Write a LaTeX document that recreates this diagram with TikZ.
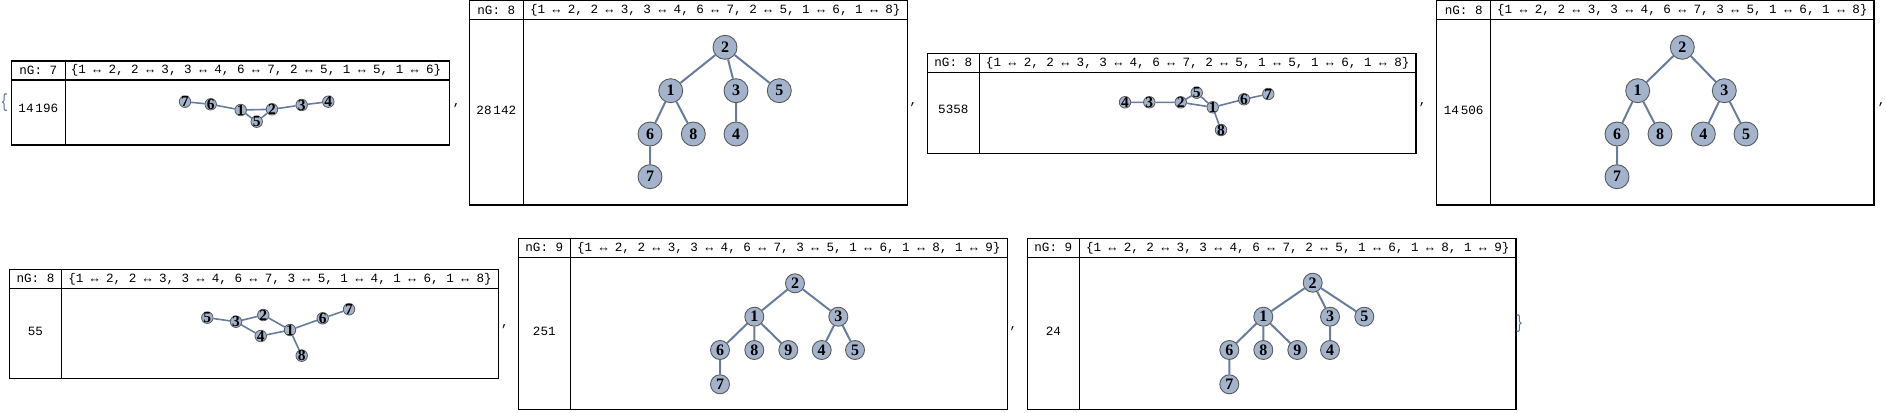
\documentclass[tikz,border=0pt]{standalone}
\usepackage{fontspec}
\setmainfont{Liberation Serif}
\setmonofont{Liberation Mono}
\usetikzlibrary{backgrounds}

\definecolor{vfill}{RGB}{163,179,204}
\definecolor{vedge}{RGB}{104,124,158}
\definecolor{vrim}{RGB}{90,90,90}
\definecolor{brace}{RGB}{85,115,155}

\begin{document}
\begin{tikzpicture}[x=1pt, y=-1pt,
    frame/.style={line width=1.3pt},
    code/.style={font=\ttfamily\fontsize{12.6}{15}\selectfont, inner sep=0pt},
    big/.style={circle, draw=vrim, fill=vfill, line width=0.9pt, inner sep=0pt,
        minimum size=24pt, font=\bfseries\fontsize{16}{16}\selectfont},
    mid/.style={big, minimum size=19pt},
    small/.style={circle, draw=vrim, fill=vfill, line width=0.8pt, inner sep=0pt,
        minimum size=11.5pt,
        label={[font=\bfseries\fontsize{15.5}{15.5}\selectfont, inner sep=0pt]center:#1}},
    link/.style={draw=vedge, line width=2pt},
    slink/.style={draw=vedge, line width=1.6pt}]
    \useasboundingbox (0,0) rectangle (1886,412);

    % frames
    \draw[frame] (11.3,61) rectangle (449.3,145) (11.3,80) -- (449.3,80) (65.3,61) -- (65.3,145);
    \draw[frame] (469.3,0.7) rectangle (907.3,205) (469.3,19.3) -- (907.3,19.3) (523.3,0.7) -- (523.3,205);
    \draw[frame] (927.3,53.3) rectangle (1416,153.3) (927.3,72.3) -- (1416,72.3) (979.3,53.3) -- (979.3,153.3);
    \draw[frame] (1436.7,0.7) rectangle (1874,205) (1436.7,19.3) -- (1874,19.3) (1490.7,0.7) -- (1490.7,205);
    \draw[frame] (9.3,269.3) rectangle (498.3,378.3) (9.3,288.3) -- (498.3,288.3) (61.7,269.3) -- (61.7,378.3);
    \draw[frame] (518.3,238.3) rectangle (1007.3,409.3) (518.3,257.3) -- (1007.3,257.3) (570.3,238.3) -- (570.3,409.3);
    \draw[frame] (1027.3,238.3) rectangle (1516,409.3) (1027.3,257.3) -- (1516,257.3) (1079.3,238.3) -- (1079.3,409.3);

    % headers
    \node[code] (ng1) at (38.3,70.5) {nG: 7};
    \node[code] (list1) at (256,70.5) {\{1 ↔ 2, 2 ↔ 3, 3 ↔ 4, 6 ↔ 7, 2 ↔ 5, 1 ↔ 5, 1 ↔ 6\}};
    \node[code] (ng2) at (496.3,10) {nG: 8};
    \node[code] (list2) at (715.3,10) {\{1 ↔ 2, 2 ↔ 3, 3 ↔ 4, 6 ↔ 7, 2 ↔ 5, 1 ↔ 6, 1 ↔ 8\}};
    \node[code] (ng3) at (953.3,62.8) {nG: 8};
    \node[code] (list3) at (1197.7,62.8) {\{1 ↔ 2, 2 ↔ 3, 3 ↔ 4, 6 ↔ 7, 2 ↔ 5, 1 ↔ 5, 1 ↔ 6, 1 ↔ 8\}};
    \node[code] (ng4) at (1463.7,10) {nG: 8};
    \node[code] (list4) at (1682.3,10) {\{1 ↔ 2, 2 ↔ 3, 3 ↔ 4, 6 ↔ 7, 3 ↔ 5, 1 ↔ 6, 1 ↔ 8\}};
    \node[code] (ng5) at (35.5,278.8) {nG: 8};
    \node[code] (list5) at (280,278.8) {\{1 ↔ 2, 2 ↔ 3, 3 ↔ 4, 6 ↔ 7, 3 ↔ 5, 1 ↔ 4, 1 ↔ 6, 1 ↔ 8\}};
    \node[code] (ng6) at (544.3,247.8) {nG: 9};
    \node[code] (list6) at (788.8,247.8) {\{1 ↔ 2, 2 ↔ 3, 3 ↔ 4, 6 ↔ 7, 3 ↔ 5, 1 ↔ 6, 1 ↔ 8, 1 ↔ 9\}};
    \node[code] (ng7) at (1053.3,247.8) {nG: 9};
    \node[code] (list7) at (1297.7,247.8) {\{1 ↔ 2, 2 ↔ 3, 3 ↔ 4, 6 ↔ 7, 2 ↔ 5, 1 ↔ 6, 1 ↔ 8, 1 ↔ 9\}};

    % counts
    \node[code] (num1) at (38.3,108.3) {14\hspace{.15em}196};
    \node[code] (num2) at (496.3,110) {28\hspace{.15em}142};
    \node[code] (num3) at (953.3,109.7) {5358};
    \node[code] (num4) at (1463.7,110) {14\hspace{.15em}506};
    \node[code] (num5) at (35.5,331.3) {55};
    \node[code] (num6) at (544.3,331.2) {251};
    \node[code] (num7) at (1053.3,331.2) {24};

    % list punctuation
    \node[code, text=brace] (open) at (4.3,102.7) {\scalebox{1}[1.5]{\{}};
    \node[code, text=brace] (close) at (1519.3,323.3) {\scalebox{1}[1.5]{\}}};
    \node[code] (sep1) at (456.7,105.7) {,};
    \node[code] (sep2) at (913.3,105) {,};
    \node[code] (sep3) at (1422.7,105) {,};
    \node[code] (sep4) at (1881.7,105) {,};
    \node[code] (sep5) at (505,326.7) {,};
    \node[code] (sep6) at (1013.3,329) {,};

    % graph 1
    \node[small=7] (a7) at (185,101.7) {};
    \node[small=6] (a6) at (210.7,104.3) {};
    \node[small=1] (a1) at (240.7,110) {};
    \node[small=2] (a2) at (272,109.3) {};
    \node[small=5] (a5) at (256.7,121.7) {};
    \node[small=3] (a3) at (301.7,105) {};
    \node[small=4] (a4) at (328.3,101.7) {};

    % graph 2
    \node[big] (b2) at (725,47.3) {2};
    \node[big] (b1) at (670.7,90.7) {1};
    \node[big] (b3) at (736,90.7) {3};
    \node[big] (b5) at (779.3,90.7) {5};
    \node[big] (b6) at (650,134) {6};
    \node[big] (b8) at (693.3,134) {8};
    \node[big] (b4) at (736,134) {4};
    \node[big] (b7) at (650,176.7) {7};

    % graph 3
    \node[small=4] (c4) at (1125,102.3) {};
    \node[small=3] (c3) at (1149.3,102.3) {};
    \node[small=2] (c2) at (1180.7,102.3) {};
    \node[small=5] (c5) at (1196.7,92.7) {};
    \node[small=1] (c1) at (1212.7,107.3) {};
    \node[small=6] (c6) at (1244,99.3) {};
    \node[small=7] (c7) at (1268.3,94) {};
    \node[small=8] (c8) at (1221,130) {};

    % graph 4
    \node[big] (d2) at (1682.3,47.3) {2};
    \node[big] (d1) at (1637.7,90.7) {1};
    \node[big] (d3) at (1724.3,90.7) {3};
    \node[big] (d6) at (1617,134) {6};
    \node[big] (d8) at (1660,134) {8};
    \node[big] (d4) at (1703.3,134) {4};
    \node[big] (d5) at (1746,134) {5};
    \node[big] (d7) at (1617,176.7) {7};

    % graph 5
    \node[small=5] (e5) at (207.3,317.7) {};
    \node[small=3] (e3) at (236,321.7) {};
    \node[small=2] (e2) at (263.3,315) {};
    \node[small=4] (e4) at (260.7,336) {};
    \node[small=1] (e1) at (290,330) {};
    \node[small=6] (e6) at (322.7,318.3) {};
    \node[small=7] (e7) at (349,309.3) {};
    \node[small=8] (e8) at (301.7,355.7) {};

    % graph 6
    \node[mid] (f2) at (795,283.3) {2};
    \node[mid] (f1) at (754.3,316.7) {1};
    \node[mid] (f3) at (838.3,316.7) {3};
    \node[mid] (f6) at (720,350) {6};
    \node[mid] (f8) at (754.3,350) {8};
    \node[mid] (f9) at (788.3,350) {9};
    \node[mid] (f4) at (821.7,350) {4};
    \node[mid] (f5) at (855,350) {5};
    \node[mid] (f7) at (720,384.3) {7};

    % graph 7
    \node[mid] (g2) at (1312.7,282.7) {2};
    \node[mid] (g1) at (1263.3,316.7) {1};
    \node[mid] (g3) at (1330,316.7) {3};
    \node[mid] (g5) at (1364.3,316.7) {5};
    \node[mid] (g6) at (1229.3,350) {6};
    \node[mid] (g8) at (1263.3,350) {8};
    \node[mid] (g9) at (1297.3,350) {9};
    \node[mid] (g4) at (1330,350) {4};
    \node[mid] (g7) at (1229.3,384.3) {7};

    \begin{pgfonlayer}{background}
        \draw[slink] (a1) -- (a2) (a2) -- (a3) (a3) -- (a4) (a6) -- (a7) (a2) -- (a5) (a1) -- (a5) (a1) -- (a6);
        \draw[link] (b1) -- (b2) (b2) -- (b3) (b3) -- (b4) (b6) -- (b7) (b2) -- (b5) (b1) -- (b6) (b1) -- (b8);
        \draw[slink] (c1) -- (c2) (c2) -- (c3) (c3) -- (c4) (c6) -- (c7) (c2) -- (c5) (c1) -- (c5) (c1) -- (c6) (c1) -- (c8);
        \draw[link] (d1) -- (d2) (d2) -- (d3) (d3) -- (d4) (d6) -- (d7) (d3) -- (d5) (d1) -- (d6) (d1) -- (d8);
        \draw[slink] (e1) -- (e2) (e2) -- (e3) (e3) -- (e4) (e6) -- (e7) (e3) -- (e5) (e1) -- (e4) (e1) -- (e6) (e1) -- (e8);
        \draw[link] (f1) -- (f2) (f2) -- (f3) (f3) -- (f4) (f6) -- (f7) (f3) -- (f5) (f1) -- (f6) (f1) -- (f8) (f1) -- (f9);
        \draw[link] (g1) -- (g2) (g2) -- (g3) (g3) -- (g4) (g6) -- (g7) (g2) -- (g5) (g1) -- (g6) (g1) -- (g8) (g1) -- (g9);
    \end{pgfonlayer}
\end{tikzpicture}
\end{document}
